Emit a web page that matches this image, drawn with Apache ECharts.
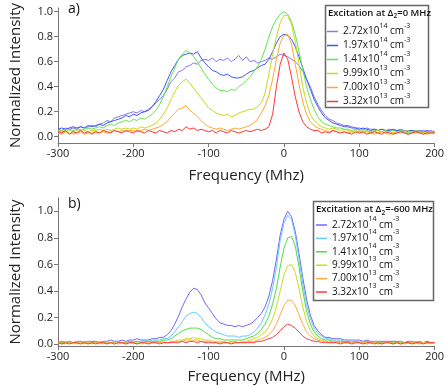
<!DOCTYPE html>
<html>
<head>
<meta charset="utf-8">
<script src="https://cdn.jsdelivr.net/npm/echarts@6/dist/echarts.min.js"></script>
<style>
  html, body { margin: 0; padding: 0; background: #fff; }
  #chart { width: 447px; height: 385px; }
</style>
</head>
<body>
<div id="chart"></div>
<script>
// frequency axis (MHz), shared by both panels
const freq = [
  -300, -295, -290, -285, -280, -275, -270, -265, -260, -255,
  -250, -245, -240, -235, -230, -225, -220, -215, -210, -205,
  -200, -195, -190, -185, -180, -175, -170, -165, -160, -155,
  -150, -145, -140, -135, -130, -125, -120, -115, -110, -105,
  -100, -95, -90, -85, -80, -75, -70, -65, -60, -55,
  -50, -45, -40, -35, -30, -25, -20, -15, -10, -5,
  0, 5, 10, 15, 20, 25, 30, 35, 40, 45,
  50, 55, 60, 65, 70, 75, 80, 85, 90, 95,
  100, 105, 110, 115, 120, 125, 130, 135, 140, 145,
  150, 155, 160, 165, 170, 175, 180, 185, 190, 195,
  200
]

const xTicks = [-300, -200, -100, 0, 100, 200]
const yTicks = [0, 0.2, 0.4, 0.6, 0.8, 1.0]

const densities = ['2.72', '1.97', '1.41', '9.99', '7.00', '3.32']
const exponents = ['14', '14', '14', '13', '13', '13']

// a) excitation at delta2 = 0 MHz
const a272 = [
  0.06, 0.05, 0.07, 0.06, 0.07, 0.06, 0.08, 0.07, 0.08, 0.09,
  0.08, 0.10, 0.11, 0.13, 0.12, 0.15, 0.16, 0.17, 0.18, 0.19,
  0.20, 0.19, 0.21, 0.20, 0.22, 0.24, 0.27, 0.30, 0.33, 0.38,
  0.44, 0.47, 0.52, 0.53, 0.56, 0.57, 0.59, 0.58, 0.61, 0.62,
  0.61, 0.63, 0.60, 0.62, 0.61, 0.63, 0.60, 0.62, 0.65, 0.61,
  0.64, 0.60, 0.61, 0.59, 0.60, 0.61, 0.63, 0.62, 0.64, 0.66,
  0.65, 0.64, 0.62, 0.60, 0.57, 0.52, 0.46, 0.40, 0.32, 0.26,
  0.21, 0.17, 0.14, 0.13, 0.11, 0.10, 0.09, 0.09, 0.08, 0.07,
  0.07, 0.06, 0.07, 0.06, 0.06, 0.05, 0.06, 0.05, 0.06, 0.05,
  0.05, 0.06, 0.05, 0.04, 0.05, 0.05, 0.04, 0.05, 0.04, 0.05,
  0.04
]
const a197 = [
  0.06, 0.07, 0.06, 0.07, 0.08, 0.07, 0.08, 0.07, 0.09, 0.08,
  0.09, 0.10, 0.09, 0.11, 0.12, 0.13, 0.14, 0.15, 0.17, 0.16,
  0.18, 0.17, 0.19, 0.20, 0.21, 0.24, 0.28, 0.33, 0.38, 0.45,
  0.52, 0.57, 0.62, 0.65, 0.66, 0.67, 0.66, 0.68, 0.63, 0.59,
  0.56, 0.53, 0.52, 0.50, 0.49, 0.50, 0.48, 0.47, 0.47, 0.48,
  0.50, 0.52, 0.53, 0.55, 0.57, 0.58, 0.62, 0.68, 0.75, 0.80,
  0.82, 0.81, 0.78, 0.72, 0.64, 0.55, 0.46, 0.38, 0.30, 0.24,
  0.19, 0.15, 0.13, 0.11, 0.10, 0.09, 0.08, 0.08, 0.07, 0.07,
  0.06, 0.07, 0.06, 0.05, 0.06, 0.05, 0.06, 0.05, 0.05, 0.06,
  0.05, 0.05, 0.04, 0.05, 0.05, 0.04, 0.05, 0.04, 0.05, 0.04,
  0.04
]
const a141 = [
  0.05, 0.04, 0.05, 0.06, 0.05, 0.06, 0.05, 0.06, 0.07, 0.06,
  0.07, 0.08, 0.07, 0.09, 0.10, 0.09, 0.11, 0.12, 0.13, 0.12,
  0.14, 0.13, 0.15, 0.14, 0.16, 0.18, 0.21, 0.26, 0.32, 0.40,
  0.48, 0.55, 0.62, 0.66, 0.69, 0.67, 0.64, 0.60, 0.55, 0.50,
  0.46, 0.42, 0.39, 0.37, 0.37, 0.36, 0.38, 0.37, 0.40, 0.42,
  0.45, 0.48, 0.52, 0.56, 0.62, 0.70, 0.80, 0.88, 0.94, 0.98,
  1.00, 0.98, 0.92, 0.82, 0.68, 0.54, 0.40, 0.30, 0.22, 0.16,
  0.12, 0.10, 0.09, 0.08, 0.07, 0.07, 0.06, 0.06, 0.05, 0.06,
  0.05, 0.06, 0.05, 0.04, 0.05, 0.05, 0.04, 0.05, 0.04, 0.05,
  0.04, 0.05, 0.04, 0.03, 0.04, 0.05, 0.04, 0.03, 0.04, 0.04,
  0.04
]
const a999 = [
  0.04, 0.05, 0.04, 0.05, 0.04, 0.05, 0.06, 0.05, 0.04, 0.05,
  0.05, 0.06, 0.05, 0.06, 0.05, 0.06, 0.07, 0.06, 0.07, 0.06,
  0.07, 0.06, 0.08, 0.07, 0.08, 0.09, 0.11, 0.14, 0.18, 0.23,
  0.30, 0.36, 0.41, 0.44, 0.46, 0.43, 0.39, 0.35, 0.31, 0.27,
  0.23, 0.21, 0.19, 0.18, 0.17, 0.18, 0.16, 0.17, 0.19, 0.20,
  0.21, 0.22, 0.22, 0.24, 0.27, 0.35, 0.50, 0.66, 0.80, 0.91,
  0.97, 0.97, 0.90, 0.76, 0.58, 0.40, 0.27, 0.18, 0.13, 0.10,
  0.08, 0.07, 0.06, 0.07, 0.06, 0.05, 0.06, 0.05, 0.04, 0.05,
  0.04, 0.05, 0.04, 0.03, 0.04, 0.05, 0.04, 0.03, 0.04, 0.03,
  0.04, 0.03, 0.04, 0.05, 0.03, 0.04, 0.03, 0.04, 0.03, 0.04,
  0.03
]
const a700 = [
  0.03, 0.02, 0.04, 0.03, 0.02, 0.03, 0.04, 0.02, 0.03, 0.03,
  0.04, 0.03, 0.04, 0.03, 0.04, 0.05, 0.04, 0.05, 0.04, 0.05,
  0.05, 0.04, 0.05, 0.06, 0.05, 0.06, 0.07, 0.08, 0.10, 0.12,
  0.16, 0.19, 0.22, 0.23, 0.25, 0.21, 0.19, 0.16, 0.13, 0.10,
  0.08, 0.07, 0.06, 0.07, 0.06, 0.05, 0.06, 0.07, 0.06, 0.07,
  0.08, 0.09, 0.11, 0.14, 0.19, 0.25, 0.33, 0.46, 0.62, 0.75,
  0.81, 0.82, 0.74, 0.58, 0.42, 0.28, 0.18, 0.12, 0.09, 0.07,
  0.06, 0.05, 0.04, 0.05, 0.04, 0.03, 0.04, 0.03, 0.04, 0.03,
  0.04, 0.03, 0.04, 0.03, 0.02, 0.03, 0.04, 0.03, 0.02, 0.03,
  0.03, 0.04, 0.03, 0.02, 0.03, 0.03, 0.04, 0.03, 0.02, 0.03,
  0.03
]
const a332 = [
  0.04, 0.03, 0.05, 0.02, 0.04, 0.03, 0.05, 0.03, 0.04, 0.02,
  0.04, 0.03, 0.05, 0.04, 0.03, 0.05, 0.04, 0.03, 0.05, 0.04,
  0.03, 0.05, 0.04, 0.03, 0.05, 0.04, 0.03, 0.05, 0.04, 0.03,
  0.05, 0.04, 0.06, 0.05, 0.08, 0.06, 0.07, 0.05, 0.06, 0.05,
  0.04, 0.05, 0.03, 0.05, 0.04, 0.03, 0.05, 0.04, 0.03, 0.04,
  0.05, 0.04, 0.05, 0.06, 0.05, 0.06, 0.08, 0.18, 0.40, 0.58,
  0.67, 0.62, 0.48, 0.32, 0.20, 0.12, 0.08, 0.06, 0.05, 0.05,
  0.03, 0.04, 0.03, 0.05, 0.04, 0.03, 0.04, 0.03, 0.02, 0.04,
  0.03, 0.04, 0.02, 0.03, 0.04, 0.03, 0.02, 0.04, 0.03, 0.02,
  0.03, 0.04, 0.03, 0.02, 0.03, 0.04, 0.03, 0.02, 0.03, 0.03,
  0.03
]

// b) excitation at delta2 = -600 MHz
const b272 = [
  0.01, 0.02, 0.01, 0.02, 0.01, 0.02, 0.02, 0.01, 0.02, 0.02,
  0.02, 0.01, 0.02, 0.02, 0.03, 0.02, 0.02, 0.03, 0.02, 0.03,
  0.03, 0.04, 0.03, 0.03, 0.03, 0.04, 0.04, 0.05, 0.05, 0.07,
  0.10, 0.15, 0.21, 0.28, 0.34, 0.39, 0.42, 0.41, 0.37, 0.31,
  0.27, 0.23, 0.19, 0.16, 0.15, 0.14, 0.14, 0.13, 0.14, 0.13,
  0.14, 0.15, 0.17, 0.20, 0.23, 0.28, 0.36, 0.48, 0.64, 0.82,
  0.94, 1.00, 0.96, 0.85, 0.68, 0.50, 0.34, 0.22, 0.14, 0.10,
  0.07, 0.05, 0.05, 0.04, 0.04, 0.04, 0.03, 0.03, 0.03, 0.03,
  0.03, 0.02, 0.03, 0.02, 0.02, 0.02, 0.02, 0.02, 0.02, 0.02,
  0.02, 0.02, 0.01, 0.02, 0.02, 0.01, 0.02, 0.01, 0.02, 0.01,
  0.01
]
const b197 = [
  0.01, 0.01, 0.02, 0.01, 0.01, 0.02, 0.01, 0.01, 0.02, 0.01,
  0.01, 0.02, 0.01, 0.02, 0.01, 0.02, 0.02, 0.01, 0.02, 0.02,
  0.02, 0.02, 0.02, 0.03, 0.02, 0.03, 0.03, 0.03, 0.04, 0.04,
  0.06, 0.09, 0.13, 0.17, 0.21, 0.23, 0.24, 0.23, 0.20, 0.16,
  0.13, 0.11, 0.09, 0.08, 0.07, 0.06, 0.06, 0.06, 0.05, 0.06,
  0.06, 0.07, 0.09, 0.12, 0.16, 0.22, 0.30, 0.42, 0.58, 0.78,
  0.91, 0.97, 0.94, 0.82, 0.64, 0.45, 0.30, 0.19, 0.12, 0.08,
  0.06, 0.04, 0.04, 0.03, 0.03, 0.03, 0.02, 0.02, 0.02, 0.02,
  0.02, 0.02, 0.02, 0.01, 0.02, 0.02, 0.01, 0.02, 0.01, 0.01,
  0.01, 0.02, 0.01, 0.01, 0.01, 0.02, 0.01, 0.01, 0.01, 0.01,
  0.01
]
const b141 = [
  0.01, 0.01, 0.01, 0.02, 0.01, 0.01, 0.01, 0.02, 0.01, 0.01,
  0.01, 0.01, 0.02, 0.01, 0.01, 0.01, 0.02, 0.01, 0.01, 0.02,
  0.01, 0.02, 0.01, 0.02, 0.02, 0.02, 0.02, 0.02, 0.03, 0.03,
  0.04, 0.06, 0.08, 0.10, 0.11, 0.12, 0.12, 0.12, 0.11, 0.09,
  0.07, 0.05, 0.04, 0.04, 0.03, 0.03, 0.03, 0.03, 0.03, 0.03,
  0.04, 0.05, 0.06, 0.08, 0.11, 0.15, 0.21, 0.30, 0.42, 0.58,
  0.72, 0.80, 0.81, 0.74, 0.58, 0.40, 0.25, 0.15, 0.09, 0.06,
  0.04, 0.03, 0.03, 0.02, 0.02, 0.02, 0.02, 0.02, 0.01, 0.02,
  0.01, 0.01, 0.02, 0.01, 0.01, 0.01, 0.01, 0.02, 0.01, 0.01,
  0.01, 0.01, 0.01, 0.01, 0.02, 0.01, 0.01, 0.01, 0.01, 0.01,
  0.01
]
const b999 = [
  0.01, 0.00, 0.01, 0.01, 0.00, 0.01, 0.01, 0.00, 0.01, 0.01,
  0.01, 0.00, 0.01, 0.01, 0.01, 0.00, 0.01, 0.01, 0.00, 0.01,
  0.01, 0.01, 0.00, 0.01, 0.01, 0.01, 0.01, 0.01, 0.02, 0.01,
  0.02, 0.02, 0.03, 0.03, 0.04, 0.04, 0.05, 0.04, 0.04, 0.03,
  0.03, 0.02, 0.02, 0.02, 0.02, 0.01, 0.02, 0.02, 0.01, 0.02,
  0.02, 0.03, 0.04, 0.05, 0.07, 0.09, 0.13, 0.19, 0.28, 0.40,
  0.52, 0.59, 0.60, 0.54, 0.42, 0.28, 0.17, 0.10, 0.06, 0.04,
  0.03, 0.02, 0.02, 0.02, 0.01, 0.01, 0.01, 0.01, 0.01, 0.01,
  0.01, 0.01, 0.00, 0.01, 0.01, 0.01, 0.00, 0.01, 0.01, 0.01,
  0.01, 0.00, 0.01, 0.01, 0.01, 0.00, 0.01, 0.01, 0.01, 0.00,
  0.01
]
const b700 = [
  0.01, 0.01, 0.00, 0.01, 0.01, 0.00, 0.01, 0.01, 0.01, 0.00,
  0.01, 0.01, 0.00, 0.01, 0.01, 0.01, 0.00, 0.01, 0.01, 0.01,
  0.01, 0.00, 0.01, 0.01, 0.01, 0.01, 0.01, 0.01, 0.01, 0.01,
  0.01, 0.02, 0.02, 0.02, 0.03, 0.03, 0.03, 0.03, 0.02, 0.02,
  0.02, 0.01, 0.01, 0.01, 0.01, 0.01, 0.01, 0.01, 0.01, 0.01,
  0.01, 0.02, 0.02, 0.03, 0.04, 0.05, 0.07, 0.10, 0.15, 0.22,
  0.29, 0.33, 0.33, 0.29, 0.22, 0.15, 0.09, 0.06, 0.04, 0.03,
  0.02, 0.02, 0.01, 0.01, 0.01, 0.01, 0.01, 0.01, 0.01, 0.01,
  0.01, 0.01, 0.00, 0.01, 0.01, 0.00, 0.01, 0.01, 0.01, 0.00,
  0.01, 0.01, 0.00, 0.01, 0.01, 0.01, 0.00, 0.01, 0.01, 0.01,
  0.01
]
const b332 = [
  0.01, 0.00, 0.01, 0.00, 0.01, 0.01, 0.00, 0.01, 0.00, 0.01,
  0.00, 0.01, 0.01, 0.00, 0.01, 0.00, 0.01, 0.01, 0.00, 0.01,
  0.01, 0.00, 0.01, 0.01, 0.00, 0.01, 0.01, 0.00, 0.01, 0.01,
  0.01, 0.01, 0.01, 0.02, 0.01, 0.02, 0.02, 0.01, 0.02, 0.01,
  0.01, 0.01, 0.01, 0.00, 0.01, 0.01, 0.00, 0.01, 0.01, 0.01,
  0.01, 0.01, 0.01, 0.02, 0.02, 0.03, 0.04, 0.05, 0.07, 0.10,
  0.13, 0.15, 0.14, 0.12, 0.09, 0.06, 0.04, 0.03, 0.02, 0.02,
  0.01, 0.01, 0.01, 0.01, 0.01, 0.00, 0.01, 0.01, 0.00, 0.01,
  0.01, 0.00, 0.01, 0.01, 0.00, 0.01, 0.00, 0.01, 0.01, 0.00,
  0.01, 0.00, 0.01, 0.01, 0.00, 0.01, 0.01, 0.00, 0.01, 0.01,
  0.01
]

const topValues = [a272, a197, a141, a999, a700, a332]
const bottomValues = [b272, b197, b141, b999, b700, b332]
const topColors = ['#8577f2', '#3f55fb', '#5fe64f', '#c8d91a', '#ffa72e', '#ff3535']
const bottomColors = ['#7565ff', '#66c8ff', '#52dc43', '#cadb22', '#ffaa44', '#ff3a44']

const font = 'Open Sans'

function pairs(vals) {
  return freq.map((f, i) => [f, vals[i]])
}

function legendLabel(name) {
  const i = Number(name.slice(1))
  return '{t|' + densities[i] + 'x10}{sup|' + exponents[i] + '}{t| cm}{sup|-3}'
}

function xAxis(idx, name, gap) {
  return {
    type: 'value',
    gridIndex: idx,
    min: -300,
    max: 200,
    interval: 100,
    axisLine: { show: true, onZero: false, lineStyle: { color: '#777', width: 1 } },
    axisTick: { show: true, length: 4, customValues: xTicks, lineStyle: { color: '#777' } },
    axisLabel: { customValues: xTicks, color: '#222', fontSize: 11, fontFamily: font, margin: 5 },
    splitLine: { show: false },
    name: name,
    nameLocation: 'middle',
    nameGap: gap,
    nameTextStyle: { color: '#222', fontSize: 15, fontFamily: font }
  }
}

function yAxis(idx, min, max) {
  return {
    type: 'value',
    gridIndex: idx,
    min: min,
    max: max,
    axisLine: { show: true, onZero: false, lineStyle: { color: '#777', width: 1 } },
    axisTick: { show: true, length: 4, customValues: yTicks, lineStyle: { color: '#777' } },
    axisLabel: {
      customValues: yTicks,
      formatter: v => v.toFixed(1),
      color: '#222',
      fontSize: 11,
      fontFamily: font,
      margin: 5
    },
    splitLine: { show: false },
    name: 'Normalized Intensity',
    nameLocation: 'middle',
    nameGap: 35,
    nameTextStyle: { color: '#222', fontSize: 15, fontFamily: font }
  }
}

function legend(prefix, left, top, gap) {
  return {
    orient: 'vertical',
    left: left,
    top: top,
    padding: 0,
    itemGap: gap,
    itemWidth: 11,
    itemHeight: 1.5,
    icon: 'rect',
    z: 5,
    data: densities.map((d, i) => prefix + i),
    formatter: legendLabel,
    textStyle: {
      rich: {
        t: { fontSize: 10, lineHeight: 20, fontFamily: font, color: '#111' },
        // tall box, text pushed to its top: acts as a superscript
        sup: { fontSize: 7, lineHeight: 8, padding: [0, 0, 12, 0], fontFamily: font, color: '#111' }
      }
    }
  }
}

const legendTitleRich = {
  t: { fontSize: 9.5, fontWeight: 600, fontFamily: font, color: '#111', lineHeight: 14 },
  sub: { fontSize: 6.5, fontWeight: 600, fontFamily: font, color: '#111', lineHeight: 7, padding: [7, 0, 0, 0] }
}

const series = []
topValues.forEach((vals, i) => {
  series.push({
    name: 'a' + i, type: 'line', xAxisIndex: 0, yAxisIndex: 0,
    data: pairs(vals), showSymbol: false, color: topColors[i],
    lineStyle: { width: 1 }, animation: false
  })
})
bottomValues.forEach((vals, i) => {
  series.push({
    name: 'b' + i, type: 'line', xAxisIndex: 1, yAxisIndex: 1,
    data: pairs(vals), showSymbol: false, color: bottomColors[i],
    lineStyle: { width: 1 }, animation: false
  })
})

const chart = echarts.init(document.getElementById('chart'))
chart.setOption({
  backgroundColor: '#fff',
  animation: false,
  grid: [
    { left: 53, right: 10, top: 5, height: 138 },
    { left: 53, right: 10, top: 198, height: 149 }
  ],
  xAxis: [xAxis(0, 'Frequency (Mhz)', 25), xAxis(1, 'Frequency (MHz)', 23)],
  yAxis: [yAxis(0, -0.05, 1.03), yAxis(1, -0.015, 1.1)],
  title: [
    { text: 'a)', left: 68, top: 2, padding: 0, textStyle: { fontSize: 14, fontWeight: 'normal', fontFamily: font, color: '#111' } },
    { text: 'b)', left: 68, top: 197, padding: 0, textStyle: { fontSize: 14, fontWeight: 'normal', fontFamily: font, color: '#111' } },
    {
      text: '{t|Excitation at Δ}{sub|2}{t|=0 MHz}', left: 328, top: 6, padding: 0, z: 7,
      textStyle: { rich: legendTitleRich }
    },
    {
      text: '{t|Excitation at Δ}{sub|2}{t|=-600 MHz}', left: 316, top: 202.5, padding: 0, z: 7,
      textStyle: { rich: legendTitleRich }
    }
  ],
  legend: [legend('a', 327, 22, -5.0), legend('b', 316, 215.5, -5.6)],
  graphic: [
    {
      type: 'rect', z: 3,
      shape: { x: 325.5, y: 5.5, width: 103, height: 102 },
      style: { fill: '#fff', stroke: '#666', lineWidth: 1.5 }
    },
    {
      type: 'rect', z: 3,
      shape: { x: 313.5, y: 201.5, width: 120, height: 99 },
      style: { fill: '#fff', stroke: '#666', lineWidth: 1.5 }
    }
  ],
  series: series
})
</script>
</body>
</html>
